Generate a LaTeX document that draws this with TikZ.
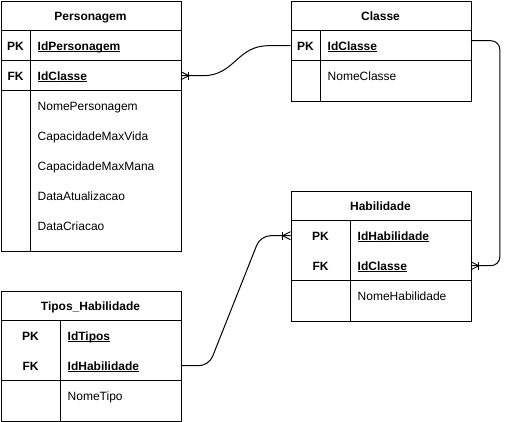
\documentclass[tikz,border=0pt]{standalone}
\usepackage{fontspec}
\setmainfont{Liberation Sans}
\newsavebox\ulkbox
\newcommand\ulk[1]{\sbox\ulkbox{#1}\rlap{\rule[-2pt]{\wd\ulkbox}{0.8pt}}\usebox\ulkbox}
\tikzset{
  tbl/.style={draw, line width=1pt, inner sep=0, anchor=north west},
  sep/.style={line width=1pt},
  rowbox/.style={inner sep=0, anchor=north west, minimum height=30pt},
  txt/.style={inner sep=0, text height=10.5pt, text depth=1.5pt, font=\fontsize{12pt}{14pt}\selectfont},
  hdr/.style={txt, font=\fontsize{12pt}{14pt}\selectfont\bfseries},
  keyl/.style={txt, font=\fontsize{12pt}{14pt}\selectfont\bfseries},
  fld/.style={txt, anchor=west},
  kfld/.style={txt, anchor=west, font=\fontsize{12pt}{14pt}\selectfont\bfseries},
  conn/.style={line width=1pt},
  crow/.pic={\draw[line width=0.9pt] (0,-4) -- (8,0) -- (0,4); \draw[line width=0.9pt] (8,-4) -- (8,4);}
}
\begin{document}
\begin{tikzpicture}[x=1pt,y=-1pt]
\useasboundingbox (0,0) rectangle (509,421);

% ---------- Personagem ----------
\node[tbl, minimum width=180pt, minimum height=250pt] (P) at (0.5,0.5) {};
\node[hdr] (Ph) at (90.5,15.5) {Personagem};
\draw[sep] (0.5,30.5) -- (180.5,30.5);
\draw[sep] (0.5,60.5) -- (180.5,60.5);
\draw[sep] (0.5,90.5) -- (180.5,90.5);
\draw[sep] (30.5,30.5) -- (30.5,250.5);
\node[rowbox, minimum width=180pt] (Ppk) at (0.5,30.5) {};
\node[rowbox, minimum width=180pt] (Pfk) at (0.5,60.5) {};
\node[keyl] (Ppkl) at (15.5,45.5) {PK};
\node[keyl] (Pfkl) at (15.5,75.5) {FK};
\node[kfld] (Pf1) at (37.5,45.5) {\ulk{IdPersonagem}};
\node[kfld] (Pf2) at (37.5,75.5) {\ulk{IdClasse}};
\node[fld] (Pf3) at (37.5,105.5) {NomePersonagem};
\node[fld] (Pf4) at (37.5,135.5) {CapacidadeMaxVida};
\node[fld] (Pf5) at (37.5,165.5) {CapacidadeMaxMana};
\node[fld] (Pf6) at (37.5,195.5) {DataAtualizacao};
\node[fld] (Pf7) at (37.5,225.5) {DataCriacao};

% ---------- Classe ----------
\node[tbl, minimum width=180pt, minimum height=100pt] (C) at (290.5,0.5) {};
\node[hdr] (Ch) at (380.5,15.5) {Classe};
\draw[sep] (290.5,30.5) -- (470.5,30.5);
\draw[sep] (290.5,60.5) -- (470.5,60.5);
\draw[sep] (320.5,30.5) -- (320.5,100.5);
\node[rowbox, minimum width=180pt] (Cpk) at (290.5,30.5) {};
\node[keyl] (Cpkl) at (305.5,45.5) {PK};
\node[kfld] (Cf1) at (327.5,45.5) {\ulk{IdClasse}};
\node[fld] (Cf2) at (327.5,75.5) {NomeClasse};
\coordinate (Cout) at ([yshift=5pt]Cpk.east);

% ---------- Habilidade ----------
\node[tbl, minimum width=180pt, minimum height=130pt] (H) at (290.5,190.5) {};
\node[hdr] (Hh) at (380.5,205.5) {Habilidade};
\draw[sep] (290.5,220.5) -- (470.5,220.5);
\draw[sep] (290.5,280.5) -- (470.5,280.5);
\draw[sep] (350.5,220.5) -- (350.5,320.5);
\node[rowbox, minimum width=180pt] (Hpk) at (290.5,220.5) {};
\node[rowbox, minimum width=180pt] (Hfk) at (290.5,250.5) {};
\node[keyl] (Hpkl) at (320.5,235.5) {PK};
\node[keyl] (Hfkl) at (320.5,265.5) {FK};
\node[kfld] (Hf1) at (357.5,235.5) {\ulk{IdHabilidade}};
\node[kfld] (Hf2) at (357.5,265.5) {\ulk{IdClasse}};
\node[fld] (Hf3) at (357.5,295.5) {NomeHabilidade};

% ---------- Tipos_Habilidade ----------
\node[tbl, minimum width=180pt, minimum height=130pt] (T) at (0.5,290.5) {};
\node[hdr] (Th) at (90.5,305.5) {Tipos\_Habilidade};
\draw[sep] (0.5,320.5) -- (180.5,320.5);
\draw[sep] (0.5,380.5) -- (180.5,380.5);
\draw[sep] (60.5,320.5) -- (60.5,420.5);
\node[rowbox, minimum width=180pt] (Tpk) at (0.5,320.5) {};
\node[rowbox, minimum width=180pt] (Tfk) at (0.5,350.5) {};
\node[keyl] (Tpkl) at (30.5,335.5) {PK};
\node[keyl] (Tfkl) at (30.5,365.5) {FK};
\node[kfld] (Tf1) at (67.5,335.5) {\ulk{IdTipos}};
\node[kfld] (Tf2) at (67.5,365.5) {\ulk{IdHabilidade}};
\node[fld] (Tf3) at (67.5,395.5) {NomeTipo};

% ---------- connectors ----------
\draw[conn] (Pfk.east) -- ++(22,0) .. controls +(32,0) and +(-32,0) .. ([xshift=-22pt]Cpk.west) -- (Cpk.west);
\pic at (Pfk.east) {crow};

\draw[conn, rounded corners=9pt] (Cout) -- ([xshift=29pt]Cout) |- (Hfk.east);
\pic at (Hfk.east) {crow};

\draw[conn, rounded corners=10pt] (Tfk.east) -- ++(28,0) -- ([xshift=-30pt]Hpk.west) -- (Hpk.west);
\pic[rotate=180] at (Hpk.west) {crow};
\end{tikzpicture}
\end{document}
